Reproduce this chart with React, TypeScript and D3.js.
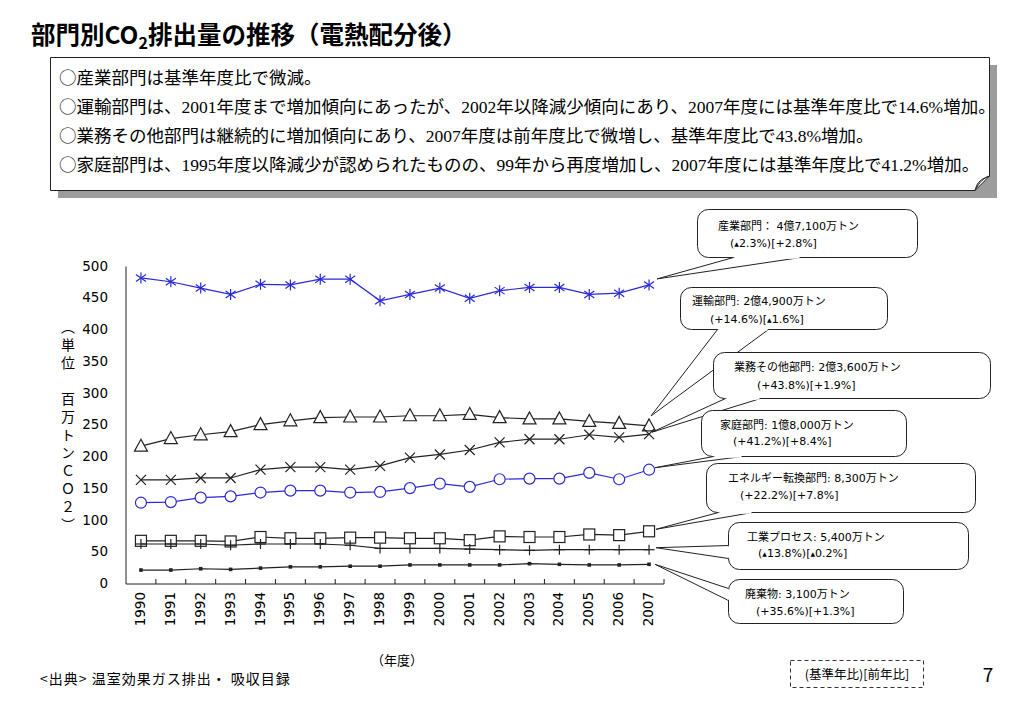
import * as d3 from 'd3';
import React from 'react';

// 年度
const years = ['1990', '1991', '1992', '1993', '1994', '1995', '1996', '1997', '1998', '1999', '2000', '2001', '2002', '2003', '2004', '2005', '2006', '2007'];
const yTicks = [0, 50, 100, 150, 200, 250, 300, 350, 400, 450, 500];

// 百万トンCO2
const industry = [482, 476, 466, 456, 472, 471, 480, 480, 446, 456, 466, 450, 462, 467, 467, 456, 458, 471];
const transport = [217, 229, 235, 240, 251, 257, 262, 263, 263, 265, 265, 267, 262, 260, 260, 256, 253, 249];
const commercial = [164, 164, 167, 167, 180, 184, 184, 180, 186, 199, 204, 211, 223, 228, 228, 235, 231, 236];
const household = [128, 129, 136, 138, 144, 147, 147, 144, 145, 151, 158, 153, 165, 166, 166, 175, 165, 180];
const energy = [68, 68, 68, 67, 74, 72, 72, 73, 73, 72, 72, 69, 75, 74, 74, 78, 77, 83];
const process = [63, 63, 63, 61, 63, 63, 63, 61, 56, 56, 56, 55, 54, 53, 54, 54, 54, 54];
const waste = [22, 22, 24, 23, 25, 27, 27, 28, 28, 30, 30, 30, 30, 32, 31, 30, 30, 31];

const calloutTitles = [
  '産業部門： 4億7,100万トン',
  '運輸部門: 2億4,900万トン',
  '業務その他部門: 2億3,600万トン',
  '家庭部門: 1億8,000万トン',
  'エネルギー転換部門: 8,300万トン',
  '工業プロセス: 5,400万トン',
  '廃棄物: 3,100万トン',
];
const calloutRates = [
  '(▲2.3%)[+2.8%]',
  '(+14.6%)[▲1.6%]',
  '(+43.8%)[+1.9%]',
  '(+41.2%)[+8.4%]',
  '(+22.2%)[+7.8%]',
  '(▲13.8%)[▲0.2%]',
  '(+35.6%)[+1.3%]',
];

const noteLines = [
  '産業部門は基準年度比で微減。',
  '運輸部門は、2001年度まで増加傾向にあったが、2002年以降減少傾向にあり、2007年度には基準年度比で14.6%増加。',
  '業務その他部門は継続的に増加傾向にあり、2007年度は前年度比で微増し、基準年度比で43.8%増加。',
  '家庭部門は、1995年度以降減少が認められたものの、99年から再度増加し、2007年度には基準年度比で41.2%増加。',
];

const SANS = '"Noto Sans CJK JP", "DejaVu Sans", sans-serif';
const TICK_FONT = '"DejaVu Sans", "Noto Sans CJK JP", sans-serif';
const SERIF = '"Liberation Serif", "Noto Sans CJK JP", serif';
const BLUE = '#2a2ad6';

const PLOT = { left: 126, right: 664, top: 266.5, bottom: 584 };

// callout boxes: box, text x, text baseline, wedge base points, tip offset
const CALLOUTS = [
  { box: [697, 209, 220, 48], tx: [718, 730], ty: [230, 247], base: [[733, 257], [800, 257]], tip: [8, -6] },
  { box: [680, 287, 207, 42], tx: [692, 710], ty: [305, 323], base: [[717, 329], [768, 329]], tip: [2, -10] },
  { box: [713, 352, 277, 46], tx: [734, 757], ty: [371, 389], base: [[725, 398], [760, 398]], tip: [3, -2] },
  { box: [701, 410, 205, 46], tx: [720, 733], ty: [429, 445], base: [[713, 456], [742, 456]], tip: [6, -2] },
  { box: [706, 463, 269, 49], tx: [728, 740], ty: [482, 499], base: [[718, 512], [752, 512]], tip: [7, -2] },
  { box: [728, 522, 240, 47], tx: [747, 758], ty: [541, 557], base: [[728, 545], [728, 558]], tip: [7, -2] },
  { box: [728, 579, 175, 44], tx: [745, 756], ty: [598, 615], base: [[728, 588], [728, 600]], tip: [6, 0] },
];

function Marker({ type, x, y, color }: { type: string; x: number; y: number; color: string }) {
  const s = { stroke: color, strokeWidth: 1.2 };
  switch (type) {
    case 'star':
      return (
        <g {...s}>
          <line x1={x} y1={y - 5.5} x2={x} y2={y + 5.5} />
          <line x1={x - 5} x2={x + 5} y1={y - 3.5} y2={y + 3.5} />
          <line x1={x - 5} x2={x + 5} y1={y + 3.5} y2={y - 3.5} />
        </g>
      );
    case 'triangle':
      return <path d={`M${x},${y - 7}L${x - 6.5},${y + 5}L${x + 6.5},${y + 5}Z`} fill="white" {...s} />;
    case 'x':
      return (
        <g {...s}>
          <line x1={x - 5} x2={x + 5} y1={y - 5} y2={y + 5} />
          <line x1={x - 5} x2={x + 5} y1={y + 5} y2={y - 5} />
        </g>
      );
    case 'circle':
      return <circle cx={x} cy={y} r={5.5} fill="white" {...s} />;
    case 'square':
      return <rect x={x - 5.5} y={y - 5.5} width={11} height={11} fill="white" {...s} />;
    case 'plus':
      return (
        <g {...s}>
          <line x1={x - 5.5} x2={x + 5.5} y1={y} y2={y} />
          <line x1={x} x2={x} y1={y - 5} y2={y + 5} />
        </g>
      );
    default:
      return <rect x={x - 1.8} y={y - 1.8} width={3.6} height={3.6} fill={color} />;
  }
}

function Rate({ text, x, y }: { text: string; x: number; y: number }) {
  const parts = text.split('▲');
  return (
    <text x={x} y={y} fontSize={11} fontFamily={TICK_FONT}>
      {parts.map((p, i) => (
        <React.Fragment key={i}>
          {i > 0 && (
            <tspan fontSize={6} dy={-1}>
              ▲
            </tspan>
          )}
          <tspan dy={i > 0 ? 1 : 0}>{p}</tspan>
        </React.Fragment>
      ))}
    </text>
  );
}

export default function App() {
  const xScale = d3.scaleBand().domain(years).range([PLOT.left, PLOT.right]).padding(0);
  const yScale = d3.scaleLinear().domain([0, 500]).range([PLOT.bottom, PLOT.top]);
  const cx = (yr: string) => (xScale(yr) ?? 0) + xScale.bandwidth() / 2;

  const series = [
    { values: industry, color: BLUE, marker: 'star' },
    { values: transport, color: '#222', marker: 'triangle' },
    { values: commercial, color: '#222', marker: 'x' },
    { values: household, color: BLUE, marker: 'circle' },
    { values: energy, color: '#222', marker: 'square' },
    { values: process, color: '#222', marker: 'plus' },
    { values: waste, color: '#222', marker: 'dot' },
  ];

  const line = d3
    .line<number>()
    .x((_, i) => cx(years[i]))
    .y(d => yScale(d));

  const last = years[years.length - 1];

  return (
    <svg width={1023} height={708} style={{ position: 'absolute', left: 0, top: 0, background: 'white' }}>
      {/* title */}
      <text x={31} y={44} fontSize={24.5} fontWeight="bold" fontFamily={SANS}>
        部門別CO
        <tspan fontSize={16} dy={5}>
          2
        </tspan>
        <tspan dy={-5}>排出量の推移（電熱配分後）</tspan>
      </text>

      {/* note box */}
      <rect x={58} y={65} width={939} height={133} fill="#9c9c9c" />
      <path d="M50.5,57.5H989.5V176L975,190.5H50.5Z" fill="white" stroke="#222" />
      <path d="M975,190.5C977,184 978,180 989.5,176C984,178 980,181 975,190.5Z" fill="#ccc" stroke="#222" />
      {noteLines.map((t, i) => (
        <text key={i} x={59} y={84 + i * 29} fontSize={17.5} fontFamily={SERIF}>
          <tspan fontFamily={SANS} fontWeight={300}>○</tspan>
          {t}
        </text>
      ))}

      {/* y axis label */}
      <text
        x={68}
        y={320}
        fontSize={14}
        fontFamily={SANS}
        letterSpacing={4}
        style={{ writingMode: 'vertical-rl' }}
      >
        （単位　百万トンＣＯ２）
      </text>

      {/* axes */}
      <line x1={PLOT.left} x2={PLOT.left} y1={PLOT.top} y2={PLOT.bottom} stroke="#222" />
      <line x1={PLOT.left} x2={PLOT.right} y1={PLOT.bottom} y2={PLOT.bottom} stroke="#222" />
      {years.map((yr, i) => {
        const x = (xScale(yr) ?? 0) + xScale.bandwidth();
        return <line key={i} x1={x} x2={x} y1={PLOT.bottom} y2={PLOT.bottom - 5} stroke="#222" />;
      })}
      {yTicks.map(t => (
        <text
          key={t}
          x={108}
          y={yScale(t)}
          textAnchor="end"
          dominantBaseline="middle"
          fontSize={13.5}
          fontFamily={TICK_FONT}
        >
          {t}
        </text>
      ))}
      {years.map(yr => (
        <text
          key={yr}
          transform={`translate(${cx(yr)},592) rotate(-90)`}
          textAnchor="end"
          dominantBaseline="middle"
          fontSize={13.5}
          fontFamily={TICK_FONT}
        >
          {yr}
        </text>
      ))}
      <text x={397} y={665} textAnchor="middle" fontSize={13} fontFamily={SANS}>
        （年度）
      </text>

      {/* series */}
      {series.map((s, si) => (
        <g key={si}>
          <path d={line(s.values) ?? ''} fill="none" stroke={s.color} strokeWidth={1.2} />
          {s.values.map((v, i) => (
            <Marker key={i} type={s.marker} x={cx(years[i])} y={yScale(v)} color={s.color} />
          ))}
        </g>
      ))}

      {/* callouts */}
      {CALLOUTS.map((c, i) => {
        const s = series[i];
        const tipX = cx(last) + c.tip[0];
        const tipY = yScale(s.values[s.values.length - 1]) + c.tip[1];
        const [x, y, w, h] = c.box;
        const [b1, b2] = c.base;
        const vertical = b1[0] === b2[0];
        return (
          <g key={i}>
            <rect x={x + 0.5} y={y + 0.5} width={w} height={h} rx={11} fill="white" stroke="#222" />
            <path
              d={`M${b1[0] + 0.5},${b1[1] + 0.5}L${tipX},${tipY}L${b2[0] + 0.5},${b2[1] + 0.5}`}
              fill="white"
              stroke="#222"
            />
            <line
              x1={b1[0] + 0.5 + (vertical ? 0 : 1)}
              y1={b1[1] + 0.5 + (vertical ? 1 : 0)}
              x2={b2[0] + 0.5 - (vertical ? 0 : 1)}
              y2={b2[1] + 0.5 - (vertical ? 1 : 0)}
              stroke="white"
              strokeWidth={2.5}
            />
            <text x={c.tx[0]} y={c.ty[0]} fontSize={11} fontFamily={TICK_FONT}>
              {calloutTitles[i]}
            </text>
            <Rate text={calloutRates[i]} x={c.tx[1]} y={c.ty[1]} />
          </g>
        );
      })}

      {/* footer */}
      <text x={40} y={684} fontSize={14} letterSpacing={1} fontFamily={SANS}>
        {'<出典> 温室効果ガス排出・ 吸収目録'}
      </text>
      <rect x={790.5} y={660.5} width={133} height={27} fill="none" stroke="#333" strokeDasharray="4,3" />
      <text x={857} y={679} textAnchor="middle" fontSize={12.5} fontFamily={SANS}>
        (基準年比)[前年比]
      </text>
      <text x={988} y={682} textAnchor="middle" fontSize={19} fontFamily={SANS}>
        7
      </text>
    </svg>
  );
}
